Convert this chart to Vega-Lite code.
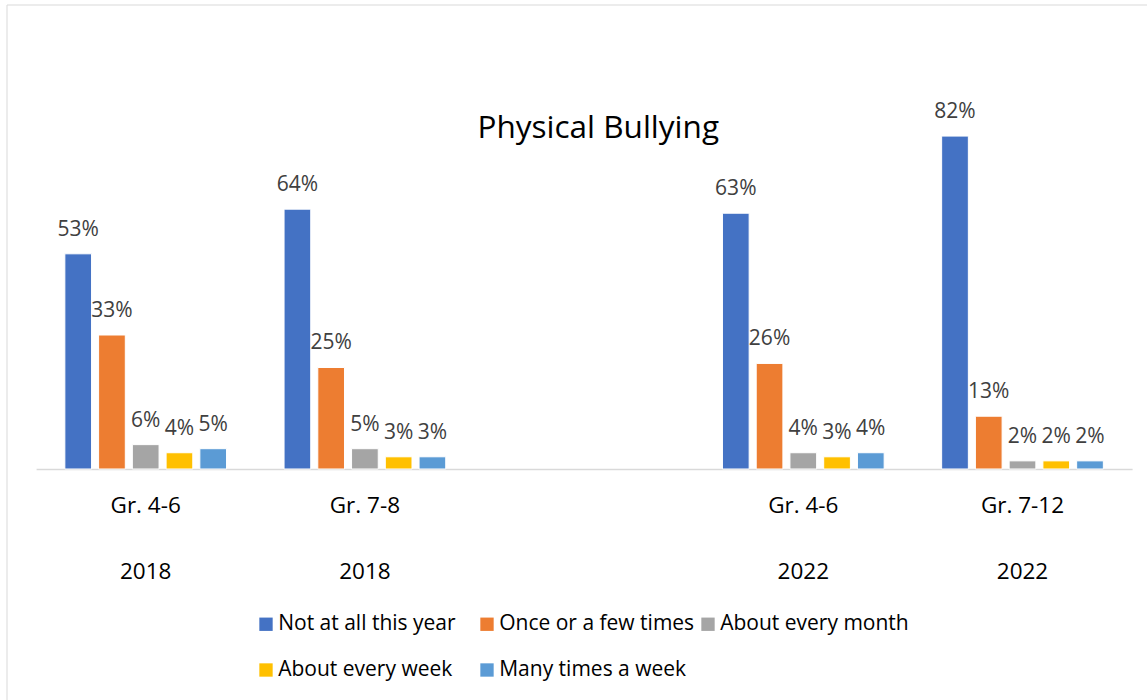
{
  "$schema": "https://vega.github.io/schema/vega-lite/v6.json",
  "width": 1147,
  "height": 700,
  "autosize": {"type": "fit", "contains": "padding"},
  "padding": {"left": 6.5, "top": 4.5, "right": -3, "bottom": -3},
  "background": "#ffffff",
  "config": {"view": {"stroke": "#d9d9d9", "strokeWidth": 1}, "font": "Open Sans"},
  "title": {
    "text": "Physical Bullying",
    "anchor": "middle",
    "frame": "group",
    "fontSize": 31.5,
    "fontWeight": "normal",
    "color": "#000000",
    "font": "Open Sans",
    "offset": -165,
    "dx": 20,
    "baseline": "alphabetic"
  },
  "data": {
    "values": [
      {"group": "Gr. 4-6|2018", "response": "Not at all this year", "value": 0.53},
      {"group": "Gr. 4-6|2018", "response": "Once or a few times", "value": 0.33},
      {"group": "Gr. 4-6|2018", "response": "About every month", "value": 0.06},
      {"group": "Gr. 4-6|2018", "response": "About every week", "value": 0.04},
      {"group": "Gr. 4-6|2018", "response": "Many times a week", "value": 0.05},
      {"group": "Gr. 7-8|2018", "response": "Not at all this year", "value": 0.64},
      {"group": "Gr. 7-8|2018", "response": "Once or a few times", "value": 0.25},
      {"group": "Gr. 7-8|2018", "response": "About every month", "value": 0.05},
      {"group": "Gr. 7-8|2018", "response": "About every week", "value": 0.03},
      {"group": "Gr. 7-8|2018", "response": "Many times a week", "value": 0.03},
      {"group": "Gr. 4-6|2022", "response": "Not at all this year", "value": 0.63},
      {"group": "Gr. 4-6|2022", "response": "Once or a few times", "value": 0.26},
      {"group": "Gr. 4-6|2022", "response": "About every month", "value": 0.04},
      {"group": "Gr. 4-6|2022", "response": "About every week", "value": 0.03},
      {"group": "Gr. 4-6|2022", "response": "Many times a week", "value": 0.04},
      {"group": "Gr. 7-12|2022", "response": "Not at all this year", "value": 0.82},
      {"group": "Gr. 7-12|2022", "response": "Once or a few times", "value": 0.13},
      {"group": "Gr. 7-12|2022", "response": "About every month", "value": 0.02},
      {"group": "Gr. 7-12|2022", "response": "About every week", "value": 0.02},
      {"group": "Gr. 7-12|2022", "response": "Many times a week", "value": 0.02}
    ]
  },
  "encoding": {
    "x": {
      "field": "group",
      "type": "nominal",
      "scale": {
        "domain": ["Gr. 4-6|2018", "Gr. 7-8|2018", "gap", "Gr. 4-6|2022", "Gr. 7-12|2022"],
        "range": [29.6, 1125.6],
        "paddingInner": 0,
        "paddingOuter": 0
      },
      "axis": {
        "title": null,
        "orient": "bottom",
        "offset": -234,
        "domainColor": "#d9d9d9",
        "domainWidth": 1.5,
        "ticks": false,
        "grid": false,
        "labelPadding": 43,
        "labelFontSize": 22.5,
        "labelColor": "#000000",
        "labelFont": "Open Sans",
        "labelBaseline": "alphabetic",
        "labelLineHeight": 66,
        "labelAngle": 0,
        "labelOverlap": false,
        "labelExpr": "datum.value == 'gap' ? '' : split(datum.value, '|')"
      }
    },
    "xOffset": {
      "field": "response",
      "type": "nominal",
      "sort": ["Not at all this year", "Once or a few times", "About every month", "About every week", "Many times a week"],
      "scale": {"paddingInner": 0.209, "paddingOuter": 0.852}
    },
    "y": {
      "field": "value",
      "type": "quantitative",
      "scale": {"domain": [-0.5764, 1.1441], "nice": false, "zero": false},
      "axis": null
    }
  },
  "layer": [
    {
      "mark": {"type": "bar", "stroke": "#ffffff", "strokeWidth": 1},
      "encoding": {
        "y2": {"datum": 0},
        "color": {
          "field": "response",
          "type": "nominal",
          "sort": ["Not at all this year", "Once or a few times", "About every month", "About every week", "Many times a week"],
          "scale": {
            "domain": ["Not at all this year", "Once or a few times", "About every month", "About every week", "Many times a week"],
            "range": ["#4472C4", "#ED7D31", "#A5A5A5", "#FFC000", "#5B9BD5"]
          },
          "legend": {
            "title": null,
            "orient": "none",
            "legendX": 249,
            "legendY": 609,
            "direction": "horizontal",
            "columns": 3,
            "gridAlign": "all",
            "symbolType": "square",
            "symbolSize": 178,
            "symbolStrokeWidth": 0,
            "symbolOpacity": 1,
            "labelFontSize": 21,
            "labelLimit": 400,
            "labelColor": "#000000",
            "labelFont": "Open Sans",
            "labelOffset": 1.7,
            "columnPadding": 3,
            "rowPadding": 24,
            "padding": 0
          }
        }
      }
    },
    {
      "mark": {"type": "text", "dy": -18, "baseline": "alphabetic", "fontSize": 21, "color": "#404040", "font": "Open Sans"},
      "encoding": {
        "text": {"field": "value", "type": "quantitative", "format": ".0%"}
      }
    }
  ]
}
